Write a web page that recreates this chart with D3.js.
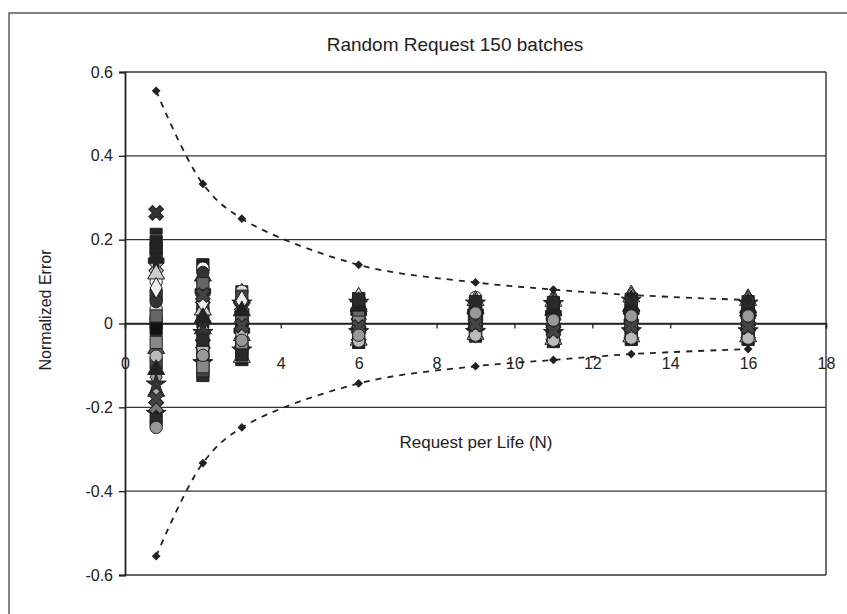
<!DOCTYPE html>
<html>
<head>
<meta charset="UTF-8" />
<title>Random Request 150 batches</title>
<style>
  body { margin: 0; background: #fff; }
  text { font-family: Arial, "Liberation Sans", sans-serif; fill: #222; }
</style>
</head>
<body>
<div id="chart"></div>
<script src="https://d3js.org/d3.v7.min.js"></script>
<script>
// request per life (x position of each column)
const requestN = [0.8, 2, 3, 6, 9, 11, 13, 16];
// theoretical bounds (dashed lines)
const upperBound = [0.555, 0.333, 0.25, 0.14, 0.098, 0.081, 0.068, 0.056];
const lowerBound = [-0.555, -0.333, -0.248, -0.143, -0.102, -0.087, -0.073, -0.061];

const xTicks = [0, 2, 4, 6, 8, 10, 12, 14, 16, 18];
const yTicks = [-0.6, -0.4, -0.2, 0, 0.2, 0.4, 0.6];

// normalized error of every batch, one list per column of requestN
// (position k in each list belongs to batch series k)
const errAtN08 = [0.264, 0.22, 0.195, -0.06, 0.165, -0.128, 0.135, 0.002, 0.1, -0.215, 0.068, -0.162, 0.035, 0.18, -0.028,
                  0.15, -0.095, 0.118, -0.198, 0.052, -0.012, 0.085, -0.145, 0.018, -0.078, -0.11, -0.045, -0.18, -0.23, -0.248];
const errAtN2 = [0.059, -0.004, 0.14, 0.113, -0.124, 0.086, -0.049, 0.023, 0.132, -0.094, 0.041, -0.013, 0.104, -0.067, 0.005,
                 0.077, -0.113, 0.032, -0.031, 0.122, -0.085, 0.05, -0.022, 0.095, -0.058, 0.014, -0.103, 0.068, -0.04, -0.076];
const errAtN3 = [0.036, 0.083, -0.086, 0.06, -0.011, 0.071, -0.046, 0.019, -0.07, 0.048, 0.001, -0.029, 0.077, -0.058, 0.025,
                 -0.017, 0.065, -0.081, 0.042, -0.035, 0.007, 0.054, -0.064, 0.013, -0.023, 0.03, -0.052, -0.005, -0.075, -0.04];
const errAtN6 = [0.02, 0.067, -0.045, 0.04, -0.01, 0.055, -0.03, 0.006, 0.06, -0.02, 0.03, -0.04, 0.012, 0.048, -0.005,
                 0.025, -0.035, 0.063, 0.0, -0.015, 0.035, -0.025, 0.05, 0.015, -0.042, 0.044, 0.003, -0.008, 0.058, -0.028];
const errAtN9 = [0.01, 0.058, -0.03, 0.035, -0.012, 0.05, 0.0, 0.022, 0.062, -0.02, 0.04, -0.026, 0.015, 0.045, -0.005,
                 0.028, -0.016, 0.055, 0.005, -0.008, 0.032, -0.022, 0.048, 0.018, -0.028, 0.038, 0.002, -0.002, 0.052, 0.025];
const errAtN11 = [0.0, 0.05, -0.043, 0.03, -0.015, 0.057, -0.03, 0.01, 0.045, -0.022, 0.035, -0.038, 0.018, 0.04, -0.008,
                  0.025, -0.025, 0.053, 0.004, -0.012, 0.028, -0.034, 0.047, 0.014, -0.04, 0.032, -0.003, -0.018, 0.05, 0.008];
const errAtN13 = [0.015, 0.06, -0.038, 0.04, -0.01, 0.067, -0.025, 0.005, 0.052, -0.018, 0.032, -0.032, 0.022, 0.045, -0.004,
                  0.028, -0.02, 0.063, 0.0, -0.012, 0.036, -0.028, 0.055, 0.01, -0.035, 0.042, 0.002, -0.007, 0.058, 0.018];
const errAtN16 = [0.01, 0.05, -0.038, 0.03, -0.012, 0.058, -0.025, 0.0, 0.045, -0.018, 0.025, -0.032, 0.015, 0.04, -0.005,
                  0.022, -0.02, 0.055, 0.004, -0.01, 0.034, -0.028, 0.048, 0.008, -0.035, 0.038, 0.002, -0.008, 0.052, 0.018];
const errorColumns = [errAtN08, errAtN2, errAtN3, errAtN6, errAtN9, errAtN11, errAtN13, errAtN16];

// marker and grey level of each batch series (Excel defaults, printed in greyscale)
const batchMarkers = ["x", "dash", "square", "triangle", "square", "diamond", "x", "square", "circle", "star",
                      "square", "triangle", "circle", "square", "diamond", "plus", "square", "triangle", "x", "circle",
                      "square", "diamond", "star", "square", "circle", "triangle", "square", "x", "square", "circle"];
const batchColors = ["#333", "#222", "#222", "#555", "#2a2a2a", "#999", "#bbb", "#222", "#fff", "#222",
                     "#333", "#aaa", "#ddd", "#222", "#333", "#222", "#444", "#ccc", "#777", "#333",
                     "#111", "#eee", "#333", "#666", "#bbb", "#222", "#888", "#444", "#2a2a2a", "#999"];

const width = 847, height = 614;
const plotLeft = 125, plotRight = 826, plotTop = 72, plotBottom = 575;
const fontFamily = "Arial, 'Liberation Sans', sans-serif";

let svg = d3.select("#chart").append("svg")
    .attr("width", width)
    .attr("height", height);

svg.append("rect").attr("width", width).attr("height", height).attr("fill", "#fff");

// outer chart frame
svg.append("rect")
    .attr("x", 9).attr("y", 13)
    .attr("width", width).attr("height", height)
    .attr("fill", "none").attr("stroke", "#333").attr("stroke-width", 1.2);

let x = d3.scaleLinear().domain([0, 18]).range([plotLeft, plotRight]);
let y = d3.scaleLinear().domain([-0.6, 0.6]).range([plotBottom, plotTop]);

// horizontal gridlines
svg.append("g").selectAll("line")
    .data(yTicks)
    .join("line")
    .attr("x1", plotLeft).attr("x2", plotRight)
    .attr("y1", d => y(d)).attr("y2", d => y(d))
    .attr("stroke", "#333").attr("stroke-width", 1.4);

// right border of plot area
svg.append("line")
    .attr("x1", plotRight).attr("x2", plotRight)
    .attr("y1", y(0.6)).attr("y2", y(-0.6))
    .attr("stroke", "#333").attr("stroke-width", 1.4);

// x axis sits on y = 0
let xAxis = svg.append("g")
    .attr("transform", `translate(0,${y(0)})`)
    .call(d3.axisBottom(x).tickValues(xTicks).tickSize(5).tickPadding(29).tickFormat(d => String(d)));
xAxis.select(".domain").attr("stroke", "#222").attr("stroke-width", 1.5);
xAxis.selectAll(".tick line").attr("stroke", "#222").attr("stroke-width", 1.3);
xAxis.selectAll("text").style("font-size", "16px").style("font-family", fontFamily).attr("fill", "#333");

// y axis (drawn after so its line runs over the "0" label)
let yAxis = svg.append("g")
    .attr("transform", `translate(${plotLeft},0)`)
    .call(d3.axisLeft(y).tickValues(yTicks).tickSize(6).tickPadding(6).tickFormat(d => String(d)));
yAxis.select(".domain").attr("stroke", "#222").attr("stroke-width", 1.8);
yAxis.selectAll(".tick line").attr("stroke", "#222").attr("stroke-width", 1.4);
yAxis.selectAll("text").style("font-size", "16px").style("font-family", fontFamily).attr("fill", "#222");

// titles
svg.append("text")
    .attr("x", 455).attr("y", 51)
    .attr("text-anchor", "middle")
    .style("font-size", "19px")
    .text("Random Request 150 batches");

svg.append("text")
    .attr("x", 476).attr("y", 448)
    .attr("text-anchor", "middle")
    .style("font-size", "17px")
    .text("Request per Life (N)");

svg.append("text")
    .attr("transform", "translate(51,310) rotate(-90)")
    .attr("text-anchor", "middle")
    .style("font-size", "16px")
    .text("Normalized Error");

// marker shapes
function markerPath(kind) {
    if (kind === "square") return d3.symbol().type(d3.symbolSquare).size(150)();
    if (kind === "diamond") return d3.symbol().type(d3.symbolDiamond).size(125)();
    if (kind === "triangle") return d3.symbol().type(d3.symbolTriangle).size(125)();
    if (kind === "circle") return d3.symbol().type(d3.symbolCircle).size(120)();
    if (kind === "plus" || kind === "x") return d3.symbol().type(d3.symbolCross).size(135)();
    if (kind === "star") return d3.symbol().type(d3.symbolStar).size(125)();
    if (kind === "dash") return "M-6,-3H6V3H-6Z";
    return d3.symbol()();
}

let points = [];
errorColumns.forEach((col, i) => {
    col.forEach((v, s) => {
        points.push({n: requestN[i], err: v, kind: batchMarkers[s], color: batchColors[s]});
    });
});

svg.append("g").selectAll("path")
    .data(points)
    .join("path")
    .attr("d", d => markerPath(d.kind))
    .attr("transform", d => `translate(${x(d.n)},${y(d.err)})` + (d.kind === "x" ? " rotate(45)" : ""))
    .attr("fill", d => d.color)
    .attr("stroke", "#222")
    .attr("stroke-width", 1);

// bound lines
let line = d3.line()
    .x((d, i) => x(requestN[i]))
    .y(d => y(d))
    .curve(d3.curveCatmullRom);

[upperBound, lowerBound].forEach(bound => {
    svg.append("path")
        .datum(bound)
        .attr("d", line)
        .attr("fill", "none")
        .attr("stroke", "#222")
        .attr("stroke-width", 1.8)
        .attr("stroke-dasharray", "6,6");

    svg.append("g").selectAll("path")
        .data(bound)
        .join("path")
        .attr("d", d3.symbol().type(d3.symbolSquare).size(38))
        .attr("transform", (d, i) => `translate(${x(requestN[i])},${y(d)}) rotate(45)`)
        .attr("fill", "#222");
});
</script>
</body>
</html>
